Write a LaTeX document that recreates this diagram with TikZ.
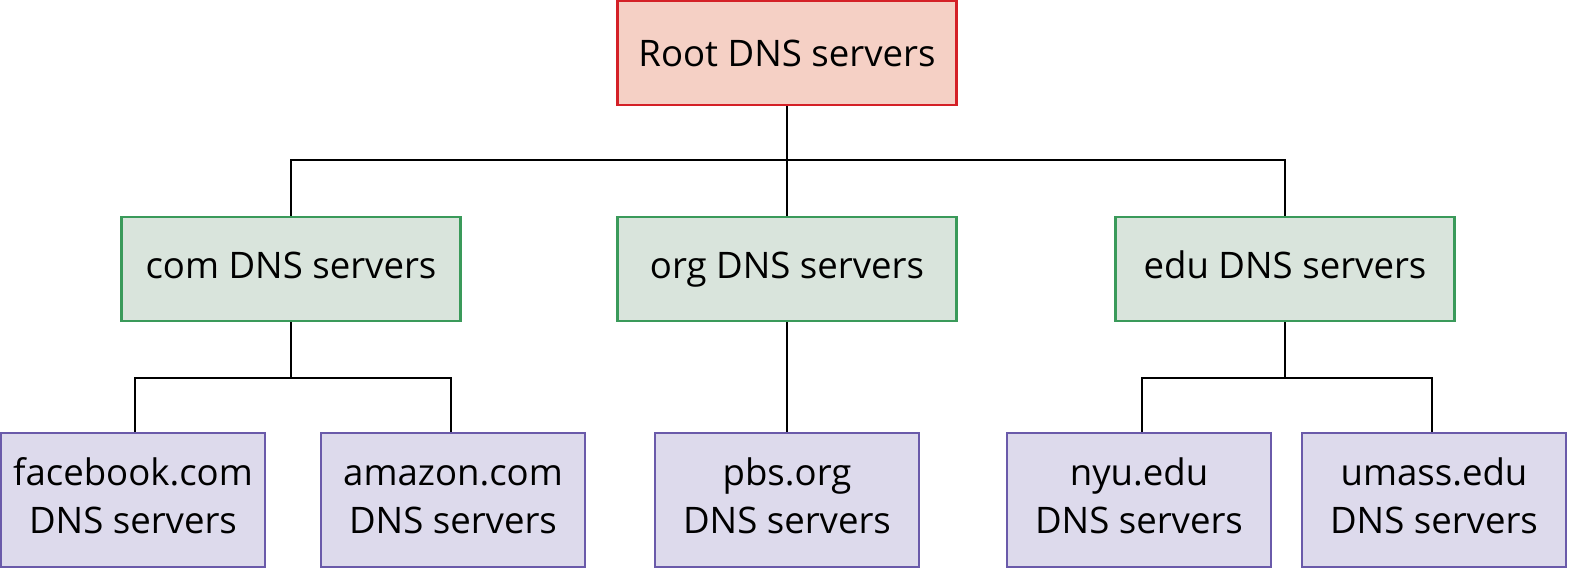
\documentclass[tikz,border=0pt]{standalone}
\usepackage{fontspec}
\setmainfont{Open Sans}
\begin{document}
\begin{tikzpicture}[x=0.01cm,y=-0.01cm,
  box/.style={draw,line width=0.6pt,minimum width=339*0.01cm,minimum height=104*0.01cm,align=center,inner sep=0pt,font=\fontsize{10.4}{13.5}\selectfont},
  rootbox/.style={box,fill=rootfill,draw=rootdraw},
  tldbox/.style={box,fill=tldfill,draw=tlddraw,text height=7.6pt,text depth=2.2pt},
  authbox/.style={box,fill=authfill,draw=authdraw,minimum width=264*0.01cm,minimum height=134*0.01cm},
  link/.style={line width=0.6pt}]
\definecolor{rootfill}{HTML}{F5D0C5}\definecolor{rootdraw}{HTML}{D42027}
\definecolor{tldfill}{HTML}{D9E4DC}\definecolor{tlddraw}{HTML}{3A9A5A}
\definecolor{authfill}{HTML}{DDDAEC}\definecolor{authdraw}{HTML}{6A5AAA}
\node[rootbox] (root) at (787,53) {Root DNS servers};
\node[tldbox] (com) at (291,269) {com DNS servers};
\node[tldbox] (org) at (787,269) {org DNS servers};
\node[tldbox] (edu) at (1285,269) {edu DNS servers};
\node[authbox] (fb) at (133,500) {\strut facebook.com\\\strut DNS servers};
\node[authbox] (am) at (453,500) {\strut amazon.com\\\strut DNS servers};
\node[authbox] (pbs) at (787,500) {\strut pbs.org\\\strut DNS servers};
\node[authbox] (nyu) at (1139,500) {\strut nyu.edu\\\strut DNS servers};
\node[authbox] (um) at (1434,500) {\strut umass.edu\\\strut DNS servers};
\draw[link] (root.south) -- (org.north);
\draw[link] (com.north) -- ++(0,-56) -| (edu.north);
\draw[link] (com.south) -- ++(0,56) coordinate (cj);
\draw[link] (cj) -| ([xshift=0.02cm]fb.north);
\draw[link] (cj) -| ([xshift=-0.02cm]am.north);
\draw[link] (org.south) -- (pbs.north);
\draw[link] (edu.south) -- ++(0,56) coordinate (ej);
\draw[link] (ej) -| ([xshift=0.03cm]nyu.north);
\draw[link] (ej) -| ([xshift=-0.02cm]um.north);
\pgfresetboundingbox
\path[use as bounding box] (0,0) rectangle (1588,576);
\end{tikzpicture}
\end{document}
